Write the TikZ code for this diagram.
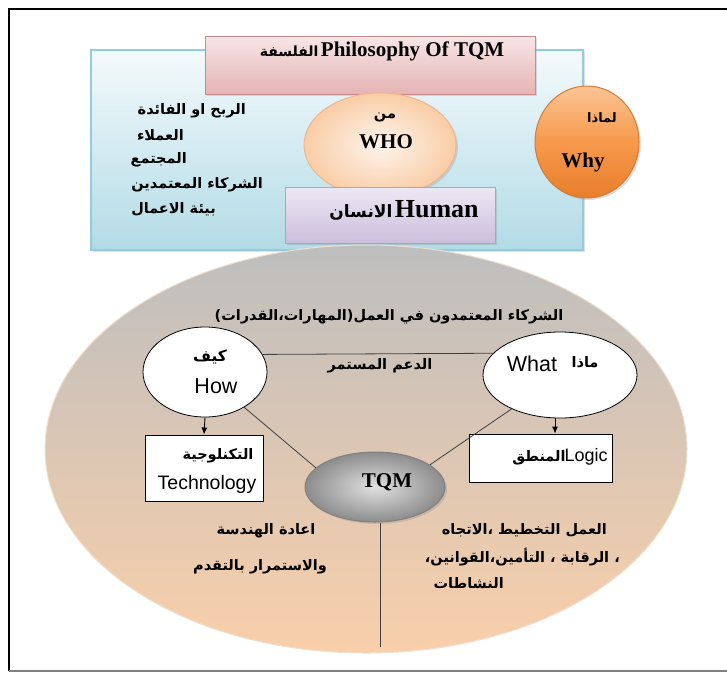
\documentclass[tikz,border=0pt]{standalone}
\usepackage{fontspec}
\setmainfont{Liberation Serif}
\setsansfont{Liberation Sans}
\newfontfamily\arabicfont[Script=Arabic]{DejaVu Sans}
\TeXXeTstate=1
\usetikzlibrary{arrows.meta,shapes.geometric,shadows,calc}
\newcommand{\AR}[1]{{\arabicfont\bfseries\beginR #1\endR}}
\definecolor{panelTop}{HTML}{F4FAFC}
\definecolor{panelBot}{HTML}{B2DBE6}
\definecolor{panelLine}{HTML}{93CDDD}
\definecolor{pinkTop}{HTML}{F8E6E6}
\definecolor{pinkBot}{HTML}{E4B3B5}
\definecolor{pinkLine}{HTML}{C98A8E}
\definecolor{lavTop}{HTML}{EDE8F4}
\definecolor{lavBot}{HTML}{CBBEDC}
\definecolor{lavLine}{HTML}{B09FCB}
\definecolor{peachIn}{HTML}{FEF4EC}
\definecolor{peachOut}{HTML}{F9CDA6}
\definecolor{peachLine}{HTML}{F2B58A}
\definecolor{orTop}{HTML}{FBC495}
\definecolor{orMid}{HTML}{F7994B}
\definecolor{orBot}{HTML}{E87E2C}
\definecolor{orLine}{HTML}{D87A35}
\definecolor{bigTop}{HTML}{BEBEBE}
\definecolor{bigBot}{HTML}{F9CFAA}
\tikzset{
  frameline/.style={line width=2pt,black},
  shd/.style={drop shadow={shadow xshift=2pt,shadow yshift=-2pt,opacity=0.25}},
  artxt/.style={font=\fontsize{14.5}{16}\selectfont,inner sep=0pt},
  ell/.style={ellipse,draw=black,line width=0.8pt,fill=white,inner sep=0pt},
  whitebox/.style={draw=black,line width=0.9pt,fill=white,inner sep=0pt},
  conn/.style={draw=black!75,line width=0.8pt},
  arr/.style={draw=black,line width=0.9pt,-{Latex[length=7pt,width=6pt]}},
  bigser/.style={inner sep=0pt,font=\fontsize{21}{23}\selectfont\bfseries},
  bigsans/.style={inner sep=0pt,font=\sffamily\fontsize{21.5}{23}\selectfont},
}
\begin{document}
\begin{tikzpicture}[x=1pt,y=-1pt]
\useasboundingbox (0,0) rectangle (727,673);
% outer frame
\coordinate (ftl) at (9,9);
\coordinate (ftr) at (727,9);
\coordinate (fbl) at (9,671);
\coordinate (fbr) at (727,671);
\draw[frameline] (ftr) -- (ftl) -- (fbl);
\draw[gray,line width=1.5pt] (fbl) -- (fbr);

% top blue panel
\node[shd,draw=panelLine,line width=1.2pt,top color=panelTop,bottom color=panelBot,
  minimum width=492pt,minimum height=200pt,inner sep=0pt] (panel) at (337,150) {};
% philosophy box
\node[shd,draw=pinkLine,line width=1pt,top color=pinkTop,bottom color=pinkBot,
  minimum width=330pt,minimum height=58pt,inner sep=0pt] (phil) at (370,65) {};
\node[inner sep=0pt] (philtxt) at (382,51) {\AR{\fontsize{14}{16}\selectfont الفلسفة} {\fontsize{21}{23}\selectfont\bfseries Philosophy Of TQM}};
% WHO ellipse
\node[shd,ellipse,draw=peachLine,line width=1pt,inner color=peachIn,outer color=peachOut,
  minimum width=152pt,minimum height=104pt,inner sep=0pt] (who) at (380,145) {};
\node[artxt] (mn) at (385,117) {\AR{من}};
\node[bigser] (whotxt) at (386,142) {WHO};
% Human box
\node[shd,draw=lavLine,line width=1pt,top color=lavTop,bottom color=lavBot,
  minimum width=210pt,minimum height=56pt,inner sep=0pt] (human) at (390,215) {};
\node[inner sep=0pt] (humantxt) at (404,210) {\AR{\fontsize{17}{19}\selectfont الانسان} {\fontsize{26}{28}\selectfont\bfseries Human}};
% Why circle
\node[shd,ellipse,draw=orLine,line width=1pt,top color=orTop,bottom color=orBot,middle color=orMid,
  minimum width=104pt,minimum height=112pt,inner sep=0pt] (why) at (587,142) {};
\node[artxt,font=\fontsize{13}{15}\selectfont] (limatha) at (602,118) {\AR{لماذا}};
\node[bigser] (whytxt) at (583,162) {Why};
% left list
\node[artxt,anchor=east] (l1) at (246,111) {\AR{الربح او الفائدة}};
\node[artxt,anchor=east] (l2) at (184,135) {\AR{العملاء}};
\node[artxt,anchor=east] (l3) at (187,160) {\AR{المجتمع}};
\node[artxt,anchor=east] (l4) at (263,185) {\AR{الشركاء المعتمدين}};
\node[artxt,anchor=east] (l5) at (216,209) {\AR{بيئة الاعمال}};

% big ellipse
\node[ellipse,draw=brown!25,line width=1pt,top color=bigTop,bottom color=bigBot,
  minimum width=642pt,minimum height=408pt,inner sep=0pt] (big) at (366,449) {};
\node[artxt] (partners) at (389,317) {\AR{الشركاء المعتمدون في العمل(المهارات،القدرات)}};

% How / What
\node[ell,minimum width=124pt,minimum height=90pt] (how) at (205,372) {};
\node[artxt,font=\fontsize{15.5}{17}\selectfont] (kayfa) at (210,357) {\AR{كيف}};
\node[bigsans] (howtxt) at (216,386) {How};
\node[ell,minimum width=154pt,minimum height=86pt] (what) at (560,375) {};
\node[bigsans] (whattxt) at (532,364) {What};
\node[artxt] (matha) at (585,362) {\AR{ماذا}};
\draw[conn] (how.17) -- (what.162);
\node[artxt] (support) at (380,366) {\AR{الدعم المستمر}};

% boxes
\node[whitebox,minimum width=118pt,minimum height=66pt] (tech) at (204,468) {};
\node[artxt] (techar) at (218,456) {\AR{التكنلوجية}};
\node[bigsans,font=\sffamily\fontsize{19.5}{21}\selectfont] (techtxt) at (207,484) {Technology};
\node[whitebox,minimum width=143pt,minimum height=48pt] (logic) at (541,458) {};
\node[inner sep=0pt] (logictxt) at (560,457) {\AR{\fontsize{14.5}{16}\selectfont المنطق}\hspace{-1pt}{\sffamily\fontsize{18}{20}\selectfont Logic}};
\coordinate (lx) at (555,0);
\draw[arr] (how.south) -- (tech.north);
\draw[arr] (what.south -| lx) -- (logic.north -| lx);

% TQM
\node[shd,ellipse,draw=gray,line width=1pt,inner color=black!12,outer color=black!45,
  minimum width=140pt,minimum height=70pt,inner sep=0pt] (tqm) at (375,487) {};
\node[bigser] (tqmtxt) at (387,482) {TQM};
\draw[conn] (how.-42) -- (tqm.162);
\draw[conn] (what.215) -- (tqm.22);
\coordinate (vend) at (380,647);
\draw[conn,line width=1pt] (tqm.south -| vend) -- (vend);

% bottom texts
\node[artxt] (reeng1) at (266,531) {\AR{اعادة الهندسة}};
\node[artxt] (reeng2) at (260,567) {\AR{والاستمرار بالتقدم}};
\node[artxt,anchor=east] (act1) at (607,530) {\AR{العمل التخطيط ،الاتجاه}};
\node[artxt,anchor=east] (act2) at (620,557) {\AR{، الرقابة ، التأمين،القوانين،}};
\node[artxt,anchor=east] (act3) at (504,583) {\AR{النشاطات}};
\end{tikzpicture}
\end{document}
